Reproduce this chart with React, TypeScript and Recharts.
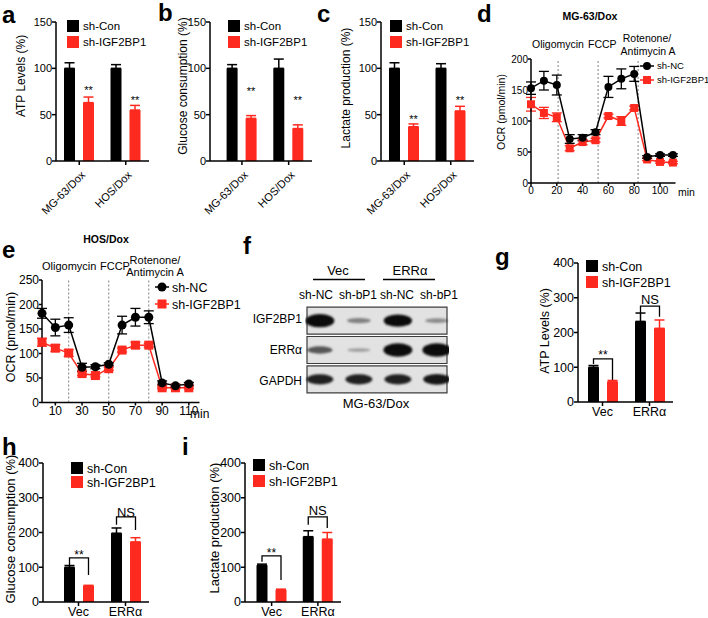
import React from 'react';
import {
  BarChart,
  Bar,
  LineChart,
  Line,
  ScatterChart,
  Scatter,
  XAxis,
  YAxis,
  ErrorBar,
  ReferenceLine,
  ReferenceArea,
} from 'recharts';

const FONT = '"Liberation Sans", Arial, Helvetica, sans-serif';
const RED = '#ff2a1f';
const INK = '#000';
const GAP = 8; // gap between the two bars of a group
const BAR = 11;

// legend / category names
const barSeries = ['sh-Con', 'sh-IGF2BP1'];
const ocrSeries = ['sh-NC', 'sh-IGF2BP1'];
const cellLines = ['MG-63/Dox', 'HOS/Dox'];
const rescue = ['Vec', 'ERRα'];

// a - ATP levels
const atpCon = [100, 100];
const atpConErr = [6, 4];
const atpKd = [63, 55];
const atpKdErr = [6, 5];
const atpStarAt = [79, 68];

// b - glucose consumption
const gluCon = [100, 100];
const gluConErr = [4, 10];
const gluKd = [46, 35];
const gluKdErr = [3, 4];
const gluStarAt = [78, 68];

// c - lactate production
const lacCon = [100, 100];
const lacConErr = [6, 5];
const lacKd = [37, 54];
const lacKdErr = [3, 5];
const lacStarAt = [48, 68];

// d / e - OCR time course
const minutes = [0, 10, 20, 30, 40, 50, 60, 70, 80, 90, 100, 110];
const mgNc = [153, 165, 158, 71, 73, 82, 155, 168, 176, 42, 45, 45];
const mgNcErr = [10, 15, 16, 7, 5, 4, 17, 16, 12, 2, 2, 2];
const mgKd = [127, 113, 106, 56, 66, 69, 108, 100, 121, 38, 34, 33];
const mgKdErr = [11, 9, 7, 4, 4, 3, 3, 7, 3, 2, 2, 2];
const mgInject = [21, 52, 83];
const hosNc = [182, 153, 158, 72, 73, 78, 158, 174, 174, 40, 34, 38];
const hosNcErr = [10, 17, 15, 8, 4, 3, 18, 18, 13, 4, 3, 3];
const hosKd = [123, 111, 101, 59, 55, 69, 107, 117, 117, 30, 30, 30];
const hosKdErr = [8, 7, 7, 4, 3, 3, 4, 6, 4, 2, 2, 2];
const hosInject = [20, 50, 80];

// f - western blot (relative band signal per lane)
const blotLanes = ['sh-NC', 'sh-bP1', 'sh-NC', 'sh-bP1'];
const blotProteins = ['IGF2BP1', 'ERRα', 'GAPDH'];
const igfSignal = [1.0, 0.25, 0.9, 0.2];
const errSignal = [0.45, 0.12, 1.0, 1.0];
const gapdhSignal = [0.7, 0.7, 0.7, 0.75];

// g - ATP rescue
const gCon = [100, 232];
const gConErr = [5, 24];
const gKd = [58, 212];
const gKdErr = [4, 24];
const gBrTop = [124, 276];
const gBrLeft = [109, 256];
const gBrRight = [63, 245];
const gBrAt = [144, 296];

// h - glucose rescue
const hCon = [100, 198];
const hConErr = [5, 15];
const hKd = [46, 173];
const hKdErr = [2, 12];
const hBrTop = [127, 245];
const hBrLeft = [106, 222];
const hBrRight = [78, 207];
const hBrAt = [145, 259];

// i - lactate rescue
const iCon = [106, 188];
const iConErr = [3, 17];
const iKd = [35, 181];
const iKdErr = [2, 19];
const iBrTop = [133, 245];
const iBrLeft = [116, 222];
const iBrRight = [63, 213];
const iBrAt = [150, 265];
const brText = ['**', 'NS'];

type Box = { x0: number; y0: number; x1: number; y1: number };

const frame = (b: Box, yw: number, xh: number) => {
  const left = b.x0 - yw - 6;
  const top = b.y0 - 12;
  return {
    pos: { position: 'absolute' as const, left, top },
    width: b.x1 - left + 12,
    height: b.y1 - top + xh + 6,
    margin: { top: 12, right: 12, bottom: 6, left: 6 },
  };
};

const axisLine = { stroke: INK, strokeWidth: 1.5 };

const SlantTick = (p: any) => (
  <g transform={`translate(${p.x},${p.y})`}>
    <text x={-2} y={11.5} textAnchor="end" transform="rotate(-45)" fontSize={11} fill={INK}>
      {p.payload.value}
    </text>
  </g>
);

type Marks =
  | { kind: 'stars'; at: number[] }
  | { kind: 'bracket'; top: number[]; left: number[]; right: number[]; at: number[] };

function BarPanel(props: {
  box: Box;
  pad: number;
  yMax: number;
  yTicks: number[];
  cats: string[];
  con: number[];
  conErr: number[];
  kd: number[];
  kdErr: number[];
  marks: Marks;
  fs: number;
  slant?: boolean;
}) {
  const { box, pad, yMax, yTicks, cats, con, conErr, kd, kdErr, marks, fs, slant } = props;
  const rows = cats.map((name, i) => ({
    name,
    con: con[i],
    conErr: [0, conErr[i]],
    kd: kd[i],
    kdErr: [0, kdErr[i]],
  }));
  const f = frame(box, 40, slant ? 70 : 22);

  // red bar also carries the significance marks, placed on the bar's own scale
  const redShape = (p: any) => {
    const { x, y, width, height, index } = p;
    const v = p.payload?.kd ?? kd[index];
    const unit = height / v;
    const base = y + height;
    const py = (val: number) => base - val * unit;
    const xr = x + width / 2;
    const xb = x - GAP - width / 2;
    let extra: React.ReactNode = null;
    if (marks.kind === 'stars') {
      extra = (
        <text x={xr} y={py(marks.at[index]) + 6.4} textAnchor="middle" fontSize={11} fill={INK}>
          **
        </text>
      );
    } else {
      const label = brText[index];
      const off = label === '**' ? 0.58 * 12 : 0.36 * 13;
      extra = (
        <g>
          <path
            d={`M${xb},${py(marks.left[index])}V${py(marks.top[index])}H${xr}V${py(marks.right[index])}`}
            stroke={INK}
            strokeWidth={1.3}
            fill="none"
          />
          <text
            x={(xb + xr) / 2}
            y={py(marks.at[index]) + off}
            textAnchor="middle"
            fontSize={label === '**' ? 12 : 13}
            fill={INK}
          >
            {label}
          </text>
        </g>
      );
    }
    return (
      <g>
        <rect x={x} y={y} width={width} height={height} fill={RED} />
        {extra}
      </g>
    );
  };

  return (
    <div style={f.pos}>
      <BarChart width={f.width} height={f.height} margin={f.margin} data={rows} barSize={BAR} barGap={GAP}>
        <XAxis
          dataKey="name"
          padding={{ left: pad, right: 0 }}
          axisLine={axisLine}
          tickLine={axisLine}
          tickSize={4}
          tickMargin={1}
          interval={0}
          height={slant ? 70 : 22}
          tick={slant ? <SlantTick /> : { fontSize: fs, fill: INK }}
        />
        <YAxis
          width={40}
          domain={[0, yMax]}
          ticks={yTicks}
          interval={0}
          axisLine={axisLine}
          tickLine={axisLine}
          tickSize={4}
          tickMargin={0}
          tick={{ fontSize: fs, fill: INK }}
        />
        <Bar dataKey="con" fill={INK} isAnimationActive={false}>
          <ErrorBar dataKey="conErr" width={5} stroke={INK} strokeWidth={1.5} direction="y" />
        </Bar>
        <Bar dataKey="kd" fill={RED} isAnimationActive={false} shape={redShape}>
          <ErrorBar dataKey="kdErr" width={5} stroke={RED} strokeWidth={1.5} direction="y" />
        </Bar>
      </BarChart>
    </div>
  );
}

function OcrPanel(props: {
  box: Box;
  xMax: number;
  xTicks: number[];
  yMax: number;
  yTicks: number[];
  nc: number[];
  ncErr: number[];
  kd: number[];
  kdErr: number[];
  inject: number[];
  fs: number;
  r: number;
}) {
  const { box, xMax, xTicks, yMax, yTicks, nc, ncErr, kd, kdErr, inject, fs, r } = props;
  const rows = minutes.map((t, i) => ({ t, nc: nc[i], ncErr: ncErr[i], kd: kd[i], kdErr: kdErr[i] }));
  const f = frame(box, 36, 22);
  const circle = (p: any) => <circle key={`c${p.index}`} cx={p.cx} cy={p.cy} r={r} fill={INK} />;
  const square = (p: any) => (
    <rect key={`s${p.index}`} x={p.cx - r} y={p.cy - r} width={2 * r} height={2 * r} fill={RED} />
  );
  return (
    <div style={f.pos}>
      <LineChart width={f.width} height={f.height} margin={f.margin} data={rows}>
        <XAxis
          type="number"
          dataKey="t"
          domain={[0, xMax]}
          ticks={xTicks}
          interval={0}
          height={22}
          axisLine={axisLine}
          tickLine={axisLine}
          tickSize={3}
          tickMargin={1}
          tick={{ fontSize: fs, fill: INK }}
        />
        <YAxis
          width={36}
          domain={[0, yMax]}
          ticks={yTicks}
          interval={0}
          axisLine={axisLine}
          tickLine={axisLine}
          tickSize={3}
          tickMargin={0}
          tick={{ fontSize: fs, fill: INK }}
        />
        {inject.map((m) => (
          <ReferenceLine key={m} x={m} stroke="#808080" strokeWidth={1} strokeDasharray="2 2" />
        ))}
        <Line dataKey="kd" stroke={RED} strokeWidth={1.5} dot={square} activeDot={false} isAnimationActive={false}>
          <ErrorBar dataKey="kdErr" width={5} stroke={RED} strokeWidth={1.3} direction="y" />
        </Line>
        <Line dataKey="nc" stroke={INK} strokeWidth={1.5} dot={circle} activeDot={false} isAnimationActive={false}>
          <ErrorBar dataKey="ncErr" width={5} stroke={INK} strokeWidth={1.3} direction="y" />
        </Line>
      </LineChart>
    </div>
  );
}

function Blot() {
  const signals = [igfSignal, errSignal, gapdhSignal];
  const pts = signals.flatMap((row, ri) => row.map((s, li) => ({ lane: li + 1, row: ri + 0.5, s })));
  const band = (p: any) => {
    const s = p.payload.s;
    return (
      <ellipse
        cx={p.cx}
        cy={p.cy}
        rx={11 + 3.5 * s}
        ry={1.2 + 5.5 * s}
        fill="#0b0b0b"
        fillOpacity={Math.min(1, 0.2 + s)}
        style={{ filter: 'blur(1.3px)' }}
      />
    );
  };
  return (
    <div style={{ position: 'absolute', left: 305, top: 304 }}>
      <ScatterChart width={144} height={92} margin={{ top: 2, right: 2, bottom: 2, left: 2 }}>
        <XAxis type="number" dataKey="lane" domain={[0.67, 4.26]} hide />
        <YAxis type="number" dataKey="row" domain={[0, 3]} reversed hide />
        {blotProteins.map((name, i) => (
          <ReferenceArea
            key={name}
            x1={0.67}
            x2={4.26}
            y1={i + 0.04}
            y2={i + 0.96}
            fill="#e2e2e2"
            fillOpacity={1}
            stroke="#3c3c3c"
            strokeWidth={1.2}
          />
        ))}
        <Scatter data={pts} shape={band} isAnimationActive={false} />
      </ScatterChart>
    </div>
  );
}

// text helpers for the overlay
const Txt = (p: { x: number; y: number; fs: number; t: string; a?: 'start' | 'middle' | 'end'; b?: boolean }) => (
  <text x={p.x} y={p.y} fontSize={p.fs} textAnchor={p.a ?? 'start'} fontWeight={p.b ? 'bold' : 'normal'} fill={INK}>
    {p.t}
  </text>
);

const VTxt = (p: { cx: number; cy: number; fs: number; t: string }) => {
  const bx = p.cx + 0.36 * p.fs;
  return (
    <text x={bx} y={p.cy} fontSize={p.fs} textAnchor="middle" transform={`rotate(-90 ${bx} ${p.cy})`} fill={INK}>
      {p.t}
    </text>
  );
};

const BarKey = (p: { x: number; y: number[]; fs: number }) => (
  <g>
    {barSeries.map((s, i) => (
      <g key={s}>
        <rect x={p.x} y={p.y[i] - 6} width={12} height={12} fill={i === 0 ? INK : RED} />
        <Txt x={p.x + 16} y={p.y[i] + 0.36 * p.fs} fs={p.fs} t={s} />
      </g>
    ))}
  </g>
);

const OcrKey = (p: { x: number; y: number[]; fs: number; r: number }) => (
  <g>
    {ocrSeries.map((s, i) => (
      <g key={s}>
        <line x1={p.x - 7} x2={p.x + 7} y1={p.y[i]} y2={p.y[i]} stroke={i === 0 ? INK : RED} strokeWidth={1.5} />
        {i === 0 ? (
          <circle cx={p.x} cy={p.y[i]} r={p.r} fill={INK} />
        ) : (
          <rect x={p.x - p.r} y={p.y[i] - p.r} width={2 * p.r} height={2 * p.r} fill={RED} />
        )}
        <Txt x={p.x + 10} y={p.y[i] + 0.36 * p.fs} fs={p.fs} t={s} />
      </g>
    ))}
  </g>
);

function Overlay() {
  const letters: [string, number, number][] = [
    ['a', 2, 23],
    ['b', 158, 21],
    ['c', 317, 22],
    ['d', 477, 22],
    ['e', 2, 258],
    ['f', 243, 254],
    ['g', 495, 265],
    ['h', 2, 455],
    ['i', 182, 455],
  ];
  const laneX = [316, 358, 397, 439];
  const rowY = [323, 354, 385];
  return (
    <svg width={708} height={618} style={{ position: 'absolute', left: 0, top: 0, pointerEvents: 'none' }}>
      {letters.map(([l, x, y]) => (
        <Txt key={l} x={x} y={y} fs={24} t={l} b />
      ))}

      <VTxt cx={21} cy={76} fs={12} t="ATP Levels (%)" />
      <VTxt cx={183} cy={86} fs={12} t="Glucose consumption (%)" />
      <VTxt cx={346} cy={88} fs={12} t="Lactate production (%)" />
      <VTxt cx={501} cy={112} fs={10.5} t="OCR (pmol/min)" />
      <VTxt cx={10} cy={337} fs={12.5} t="OCR (pmol/min)" />
      <VTxt cx={544} cy={331} fs={12.5} t="ATP Levels (%)" />
      <VTxt cx={10} cy={529} fs={13} t="Glucose consumption (%)" />
      <VTxt cx={214} cy={528} fs={13} t="Lactate production (%)" />

      <BarKey x={67} y={[26, 42]} fs={11.5} />
      <BarKey x={228} y={[26, 42]} fs={11.5} />
      <BarKey x={390} y={[26, 42]} fs={11.5} />
      <BarKey x={586} y={[266, 282]} fs={12.5} />
      <BarKey x={71} y={[468, 482]} fs={12.5} />
      <BarKey x={253} y={[465, 481]} fs={12.5} />

      <OcrKey x={647} y={[66, 80]} fs={9.5} r={4} />
      <OcrKey x={162} y={[287, 304]} fs={12.5} r={4.5} />

      {/* d annotations */}
      <Txt x={590} y={20} fs={10.5} t={cellLines[0]} a="middle" b />
      <Txt x={532} y={48} fs={10.5} t="Oligomycin" />
      <Txt x={588} y={48} fs={10.5} t="FCCP" />
      <Txt x={647} y={42} fs={10.5} t="Rotenone/" a="middle" />
      <Txt x={648} y={55} fs={10.5} t="Antimycin A" a="middle" />
      <Txt x={678} y={196} fs={10.5} t="min" />

      {/* e annotations */}
      <Txt x={106} y={243} fs={10.5} t={cellLines[1]} a="middle" b />
      <Txt x={42} y={270} fs={11} t="Oligomycin" />
      <Txt x={100} y={270} fs={11} t="FCCP" />
      <Txt x={155} y={264} fs={11} t="Rotenone/" a="middle" />
      <Txt x={155} y={276} fs={11} t="Antimycin A" a="middle" />
      <Txt x={190} y={418} fs={12} t="min" />

      {/* f labels */}
      <Txt x={338} y={275} fs={13} t={rescue[0]} a="middle" />
      <Txt x={410} y={275} fs={13} t={rescue[1]} a="middle" />
      <line x1={313} x2={365} y1={279.5} y2={279.5} stroke={INK} strokeWidth={1.5} />
      <line x1={383} x2={435} y1={279.5} y2={279.5} stroke={INK} strokeWidth={1.5} />
      {blotLanes.map((l, i) => (
        <Txt key={i} x={laneX[i]} y={299} fs={12} t={l} a="middle" />
      ))}
      {blotProteins.map((p, i) => (
        <Txt key={p} x={302} y={rowY[i]} fs={12} t={p} a="end" />
      ))}
      <Txt x={376} y={408} fs={13} t={cellLines[0]} a="middle" />
    </svg>
  );
}

export default function App() {
  return (
    <div
      style={{
        position: 'absolute',
        left: 0,
        top: 0,
        width: 708,
        height: 618,
        background: '#fff',
        overflow: 'hidden',
        fontFamily: FONT,
      }}
    >
      <BarPanel
        box={{ x0: 55.5, y0: 22, x1: 148.5, y1: 161 }}
        pad={0}
        yMax={150}
        yTicks={[0, 50, 100, 150]}
        cats={cellLines}
        con={atpCon}
        conErr={atpConErr}
        kd={atpKd}
        kdErr={atpKdErr}
        marks={{ kind: 'stars', at: atpStarAt }}
        fs={11}
        slant
      />
      <BarPanel
        box={{ x0: 210, y0: 22, x1: 312, y1: 161 }}
        pad={8.6}
        yMax={150}
        yTicks={[0, 50, 100, 150]}
        cats={cellLines}
        con={gluCon}
        conErr={gluConErr}
        kd={gluKd}
        kdErr={gluKdErr}
        marks={{ kind: 'stars', at: gluStarAt }}
        fs={11}
        slant
      />
      <BarPanel
        box={{ x0: 380.5, y0: 22, x1: 473.5, y1: 161 }}
        pad={0}
        yMax={150}
        yTicks={[0, 50, 100, 150]}
        cats={cellLines}
        con={lacCon}
        conErr={lacConErr}
        kd={lacKd}
        kdErr={lacKdErr}
        marks={{ kind: 'stars', at: lacStarAt }}
        fs={11}
        slant
      />
      <OcrPanel
        box={{ x0: 531, y0: 59, x1: 675.5, y1: 183 }}
        xMax={112}
        xTicks={[0, 20, 40, 60, 80, 100]}
        yMax={200}
        yTicks={[0, 50, 100, 150, 200]}
        nc={mgNc}
        ncErr={mgNcErr}
        kd={mgKd}
        kdErr={mgKdErr}
        inject={mgInject}
        fs={10}
        r={4}
      />
      <OcrPanel
        box={{ x0: 41.5, y0: 280, x1: 199, y1: 402.5 }}
        xMax={118}
        xTicks={[10, 30, 50, 70, 90, 110]}
        yMax={250}
        yTicks={[0, 50, 100, 150, 200, 250]}
        nc={hosNc}
        ncErr={hosNcErr}
        kd={hosKd}
        kdErr={hosKdErr}
        inject={hosInject}
        fs={12}
        r={4.5}
      />
      <Blot />
      <BarPanel
        box={{ x0: 578, y0: 263, x1: 673, y1: 402 }}
        pad={1}
        yMax={400}
        yTicks={[0, 100, 200, 300, 400]}
        cats={rescue}
        con={gCon}
        conErr={gConErr}
        kd={gKd}
        kdErr={gKdErr}
        marks={{ kind: 'bracket', top: gBrTop, left: gBrLeft, right: gBrRight, at: gBrAt }}
        fs={12.5}
      />
      <BarPanel
        box={{ x0: 43, y0: 463, x1: 149, y1: 602 }}
        pad={12}
        yMax={400}
        yTicks={[0, 100, 200, 300, 400]}
        cats={rescue}
        con={hCon}
        conErr={hConErr}
        kd={hKd}
        kdErr={hKdErr}
        marks={{ kind: 'bracket', top: hBrTop, left: hBrLeft, right: hBrRight, at: hBrAt }}
        fs={12.5}
      />
      <BarPanel
        box={{ x0: 245, y0: 463, x1: 341, y1: 602 }}
        pad={3.5}
        yMax={400}
        yTicks={[0, 100, 200, 300, 400]}
        cats={rescue}
        con={iCon}
        conErr={iConErr}
        kd={iKd}
        kdErr={iKdErr}
        marks={{ kind: 'bracket', top: iBrTop, left: iBrLeft, right: iBrRight, at: iBrAt }}
        fs={12.5}
      />
      <Overlay />
    </div>
  );
}
